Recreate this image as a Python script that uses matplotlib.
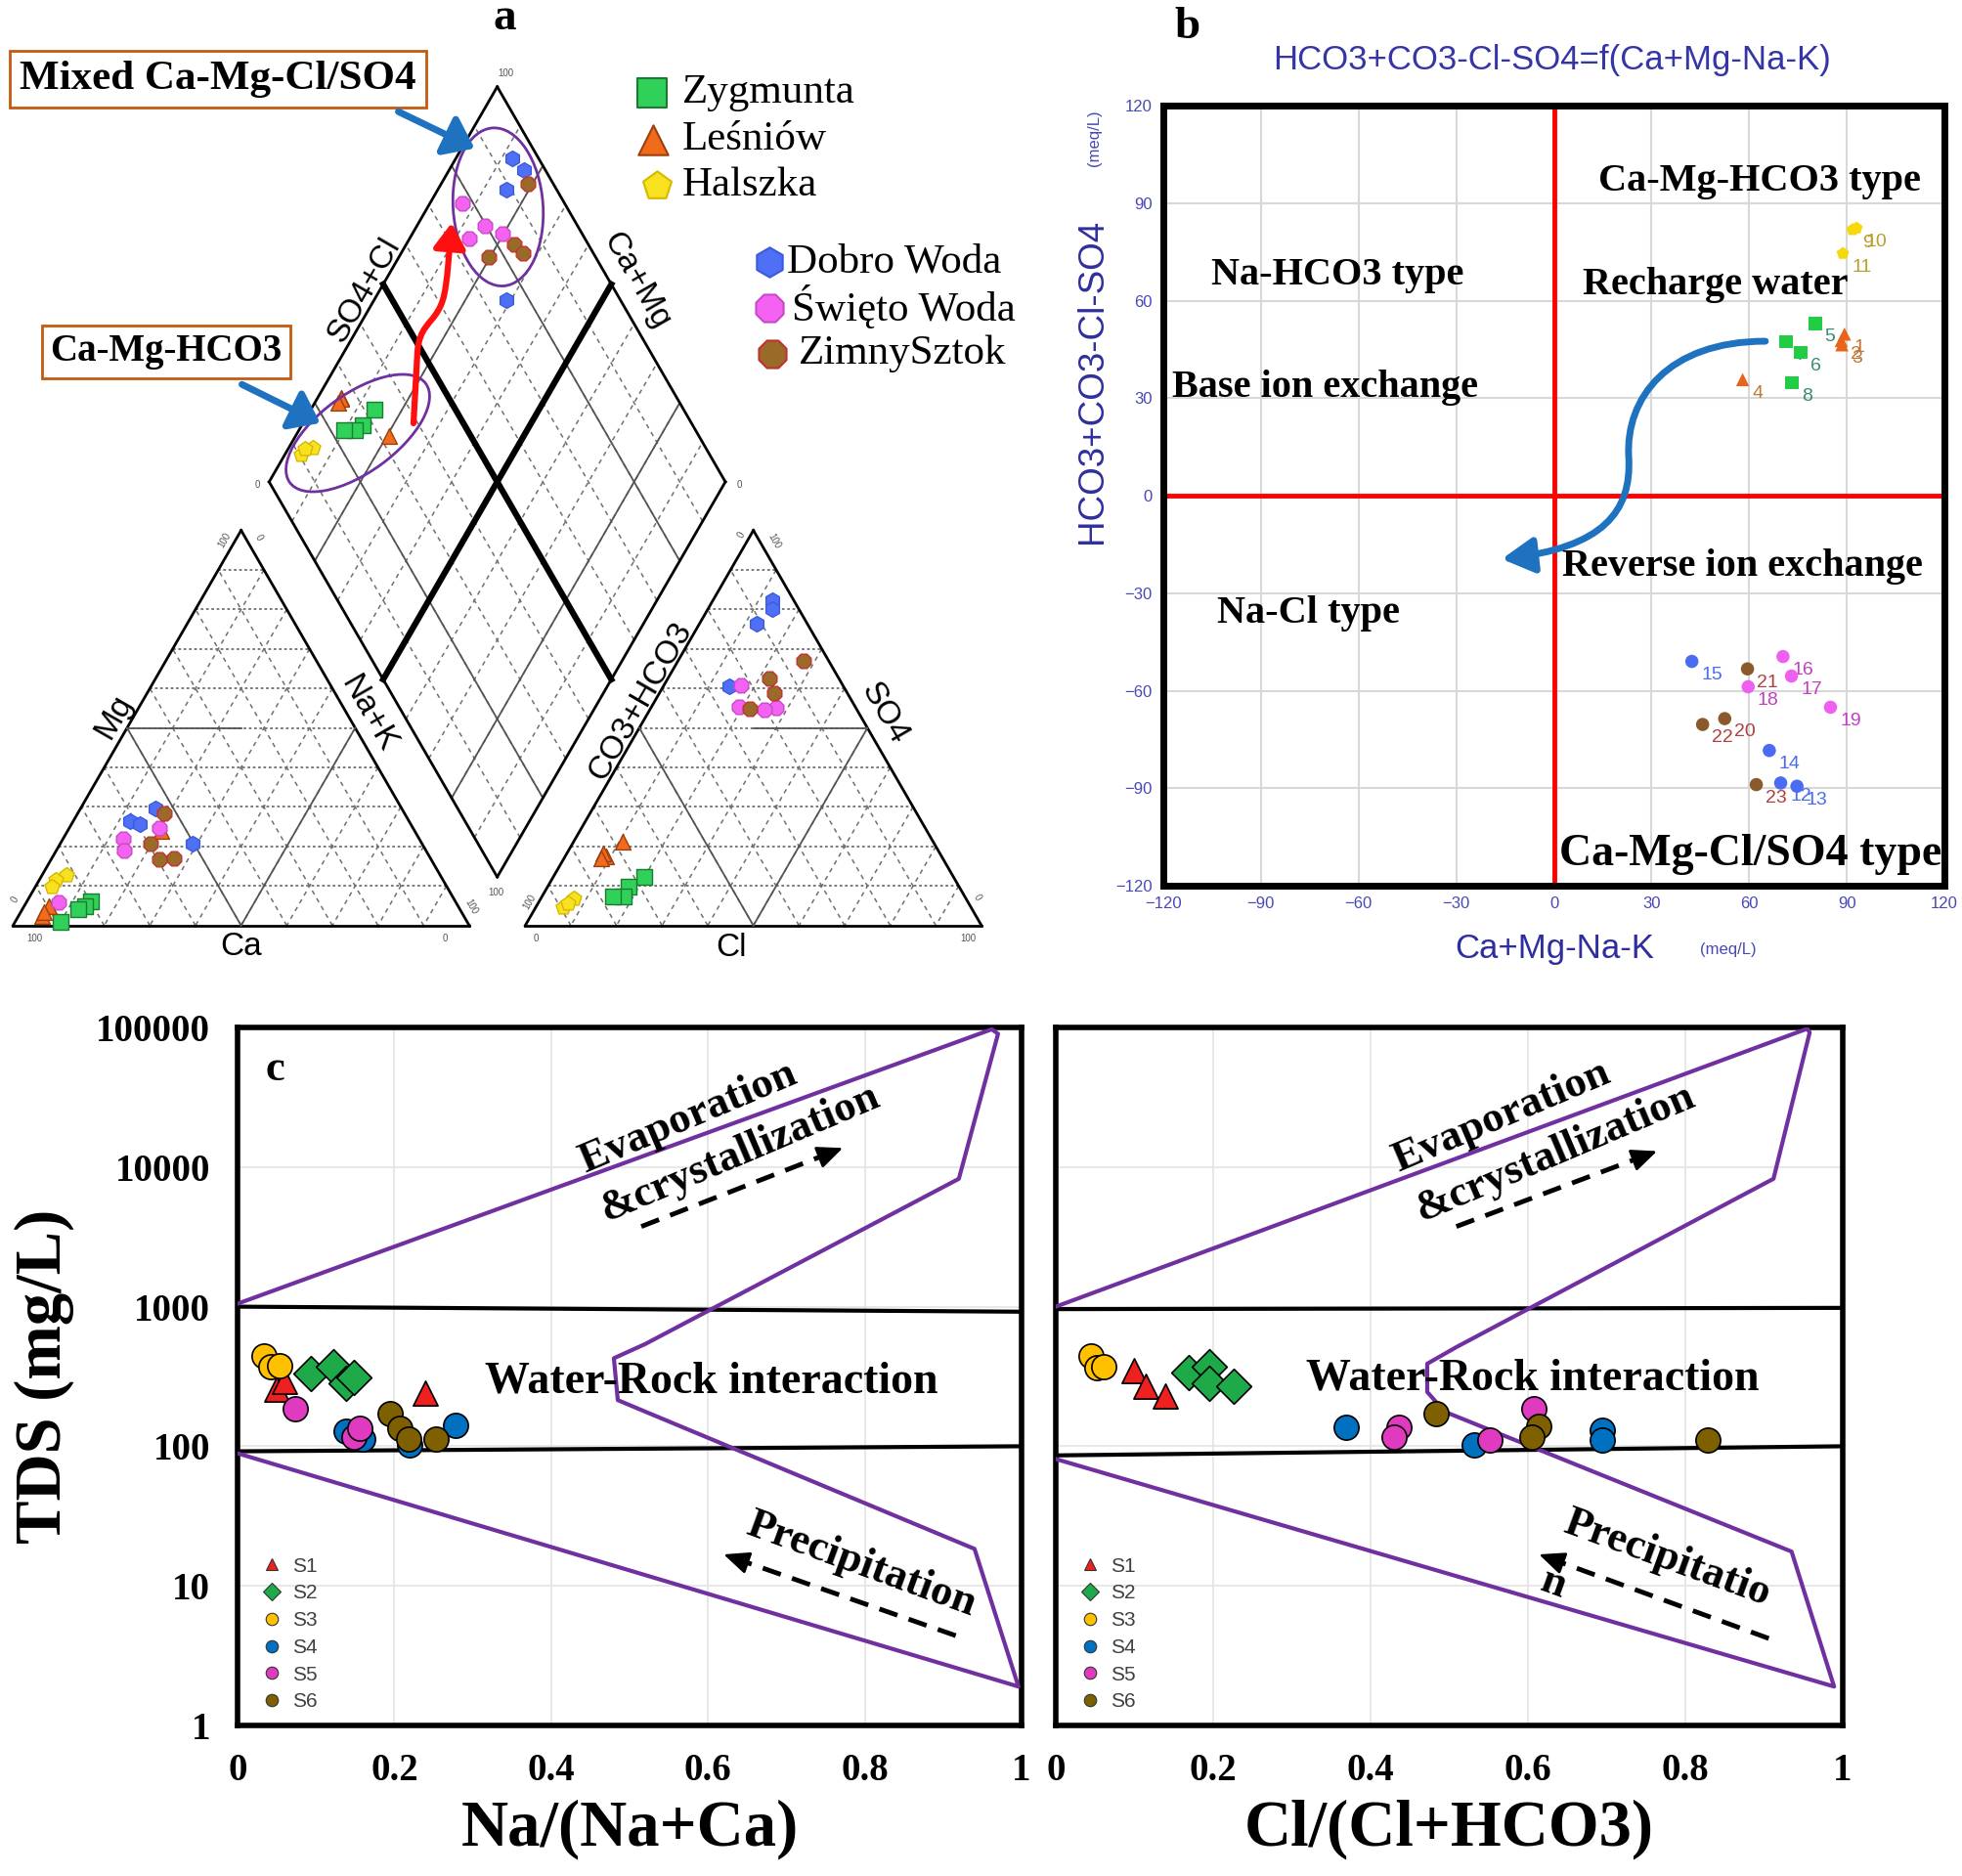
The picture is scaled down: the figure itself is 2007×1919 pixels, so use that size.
import numpy as np
import matplotlib
matplotlib.use('Agg')
import matplotlib.pyplot as plt
from matplotlib.patches import Ellipse, FancyArrowPatch
from matplotlib.path import Path
from matplotlib.lines import Line2D

SERIF = ['Liberation Serif', 'DejaVu Serif']
SANS = ['Liberation Sans', 'DejaVu Sans']

# ---------------- panel a : Piper data (% meq) ----------------
sites = ['Zygmunta', 'Leśniów', 'Halszka', 'Dobro Woda', 'Święto Woda', 'ZimnySztok']
mg_pct = {'Zygmunta': [6.1, 4.9, 4.1, 0.9], 'Leśniów': [2.4, 4.9, 3.4, 24.0],
          'Halszka': [12.8, 11.6, 9.9], 'Dobro Woda': [29.7, 26.5, 25.7, 20.8],
          'Święto Woda': [24.7, 22.0, 19.0, 5.9], 'ZimnySztok': [28.4, 20.8, 16.8, 17.0]}
na_pct = {'Zygmunta': [14.0, 13.3, 12.3, 10.0], 'Leśniów': [5.2, 5.4, 5.0, 20.5],
          'Halszka': [5.3, 3.6, 3.6], 'Dobro Woda': [16.4, 12.4, 15.0, 29.0],
          'Święto Woda': [19.7, 13.1, 14.9, 7.0], 'ZimnySztok': [18.9, 19.7, 23.7, 26.8]}
so4_pct = {'Zygmunta': [12.4, 9.9, 7.4, 7.4], 'Leśniów': [17.4, 18.3, 17.0, 21.3],
           'Halszka': [6.8, 4.6, 5.6], 'Dobro Woda': [82.3, 80.2, 76.4, 60.6],
           'Święto Woda': [55.0, 55.4, 54.5, 60.7], 'ZimnySztok': [66.9, 54.8, 58.8, 62.4]}
cl_pct = {'Zygmunta': [19.9, 17.8, 17.9, 15.6], 'Leśniów': [9.0, 8.0, 8.1, 10.8],
          'Halszka': [7.2, 5.9, 6.5], 'Dobro Woda': [12.9, 14.0, 12.6, 14.4],
          'Święto Woda': [27.4, 19.2, 25.1, 16.9], 'ZimnySztok': [27.5, 21.8, 25.1, 22.2]}

site_marker = {'Zygmunta': 's', 'Leśniów': '^', 'Halszka': 'p',
               'Dobro Woda': 'h', 'Święto Woda': '8', 'ZimnySztok': '8'}
site_face = {'Zygmunta': '#2fd159', 'Leśniów': '#f26a1b', 'Halszka': '#f8e21f',
             'Dobro Woda': '#4f70f5', 'Święto Woda': '#f462f2', 'ZimnySztok': '#9a6a28'}
site_edge = {'Zygmunta': '#1d7a33', 'Leśniów': '#9a4010', 'Halszka': '#d6b800',
             'Dobro Woda': '#3a5ae0', 'Święto Woda': '#c848c8', 'ZimnySztok': '#c03232'}

# ---------------- panel b data (meq/L) ----------------
b_x = {'Halszka': [91.8, 93.0, 88.8], 'Zygmunta': [80.3, 71.4, 75.8, 73.2],
       'Leśniów': [89.3, 88.3, 88.5, 58.0], 'Dobro Woda': [42.4, 66.2, 69.7, 74.7],
       'Święto Woda': [70.4, 73.0, 59.7, 85.0], 'ZimnySztok': [59.5, 52.5, 45.7, 62.2]}
b_y = {'Halszka': [81.8, 82.3, 74.5], 'Zygmunta': [52.9, 47.4, 44.0, 34.7],
       'Leśniów': [49.7, 47.7, 46.4, 35.7], 'Dobro Woda': [-51.0, -78.4, -88.4, -89.4],
       'Święto Woda': [-49.5, -55.5, -58.8, -65.1], 'ZimnySztok': [-53.3, -68.6, -70.4, -88.9]}
b_lab = {'Halszka': ['9', '10', '11'], 'Zygmunta': ['5', '7', '6', '8'],
         'Leśniów': ['1', '2', '3', '4'], 'Dobro Woda': ['15', '14', '12', '13'],
         'Święto Woda': ['16', '17', '18', '19'], 'ZimnySztok': ['21', '20', '22', '23']}
b_marker = {'Halszka': 'p', 'Zygmunta': 's', 'Leśniów': '^', 'Dobro Woda': 'o',
            'Święto Woda': 'o', 'ZimnySztok': 'o'}
b_face = {'Halszka': '#f5d90a', 'Zygmunta': '#22cc44', 'Leśniów': '#e8641a',
          'Dobro Woda': '#4a6cf0', 'Święto Woda': '#f060f0', 'ZimnySztok': '#8b5a2b'}
b_text = {'Halszka': '#b8a030', 'Zygmunta': '#3a8a70', 'Leśniów': '#c07838',
          'Dobro Woda': '#4a6cf0', 'Święto Woda': '#c040c0', 'ZimnySztok': '#b04040'}

# ---------------- panel c data ----------------
groups = ['S1', 'S2', 'S3', 'S4', 'S5', 'S6']
g_marker = {'S1': '^', 'S2': 'D', 'S3': 'o', 'S4': 'o', 'S5': 'o', 'S6': 'o'}
g_color = {'S1': '#ee2020', 'S2': '#1faa4a', 'S3': '#ffc000', 'S4': '#0070c0',
           'S5': '#e03ac0', 'S6': '#7f6000'}
na_ratio = {'S1': [0.05, 0.06, 0.24], 'S2': [0.093, 0.122, 0.139, 0.148],
            'S3': [0.034, 0.042, 0.053], 'S4': [0.139, 0.16, 0.219, 0.278],
            'S5': [0.074, 0.148, 0.156], 'S6': [0.194, 0.207, 0.218, 0.253]}
tds_na = {'S1': [255, 290, 240], 'S2': [331, 372, 282, 309], 'S3': [447, 372, 380],
          'S4': [128, 112, 102, 141], 'S5': [186, 117, 135], 'S6': [170, 135, 112, 112]}
cl_ratio = {'S1': [0.10, 0.114, 0.139], 'S2': [0.169, 0.195, 0.195, 0.226],
            'S3': [0.045, 0.052, 0.061], 'S4': [0.369, 0.532, 0.695, 0.695],
            'S5': [0.436, 0.43, 0.551, 0.608], 'S6': [0.483, 0.614, 0.605, 0.828]}
tds_cl = {'S1': [346, 270, 229], 'S2': [340, 372, 282, 270], 'S3': [447, 364, 372],
          'S4': [137, 102, 130, 110], 'S5': [137, 117, 110, 186], 'S6': [170, 140, 117, 110]}

# Gibbs boundaries
gibbs_na_x = [0, 0.962, 0.97, 0.92, 0.52, 0.48, 0.485, 0.52, 0.94, 0.996, 0]
gibbs_na_y = [1050, 97000, 90000, 8240, 540, 427, 214, 177, 18.4, 1.9, 89]
gibbs_cl_x = [0, 0.955, 0.958, 0.912, 0.509, 0.472, 0.472, 0.494, 0.935, 0.989, 0]
gibbs_cl_y = [1000, 98000, 92000, 8240, 513, 390, 245, 177, 17.6, 1.9, 81]

W, HF = 2008, 1919
fig = plt.figure(figsize=(W / 100, HF / 100), dpi=100)


def box(x0, y0, x1, y1):
    return [x0 / W, 1 - y1 / HF, (x1 - x0) / W, (y1 - y0) / HF]


# =============== panel a: Piper ===============
ax = fig.add_axes(box(0, 0, 1060, 990))
ax.set_xlim(0, 1060)
ax.set_ylim(990, 0)
ax.axis('off')

S = 466.7
TH = S * np.sqrt(3) / 2
X0, Y0, GAP = 13.3, 946.7, 57.3
cA = np.array([X0, Y0]); cB = cA + [S, 0]; cC = cA + [S / 2, -TH]
aA = np.array([X0 + S + GAP, Y0]); aB = aA + [S, 0]; aC = aA + [S / 2, -TH]
dB = np.array([X0 + S + GAP / 2, Y0 - GAP * np.sqrt(3) / 2])
dL = dB + [-S / 2, -TH]; dR = dB + [S / 2, -TH]; dT = dB + [0, -2 * TH]


def seg(p, q, **kw):
    ax.plot([p[0], q[0]], [p[1], q[1]], **kw)


def tri_grid(A, B, C):
    for t in np.arange(0.1, 0.95, 0.1):
        seg(A + t * (C - A), B + t * (C - B), ls=(0, (1.5, 1.5)), color='#707070', lw=1.3)
        for P, Q, R in [(B, C, A), (C, A, B)]:
            seg(P + t * (R - P), Q + t * (R - Q), ls=(0, (3, 3)), color='#707070', lw=1.1)
    seg(A, B, color='black', lw=2); seg(B, C, color='black', lw=2); seg(C, A, color='black', lw=2)


tri_grid(cA, cB, cC)
tri_grid(aA, aB, aC)
# subdivision lines
thin = dict(color='#555555', lw=1.3)
seg((cA + cC) / 2, (cA + cB) / 2, **thin)
seg((cB + cC) / 2, (cA + cB) / 2, **thin)
seg((cA + cC) / 2, (cA + cC) / 2 + [S / 4, 0], **thin)
seg((aA + aC) / 2, (aA + aB) / 2, **thin)
seg((aB + aC) / 2, (aA + aB) / 2, **thin)
seg((aB + aC) / 2, (aB + aC) / 2 - [S / 4, 0], **thin)

for t in np.arange(0.1, 0.95, 0.1):
    p = dB + t * (dR - dB); seg(p, p + (dL - dB), ls=(0, (3, 3)), color='#707070', lw=1.1)
    p = dB + t * (dL - dB); seg(p, p + (dR - dB), ls=(0, (3, 3)), color='#707070', lw=1.1)
for t in [0.2, 0.8]:
    p = dB + t * (dR - dB); seg(p, p + (dL - dB), **thin)
    p = dB + t * (dL - dB); seg(p, p + (dR - dB), **thin)
p = dB + 0.5 * (dR - dB); seg(p, p + (dL - dB), color='black', lw=4.5)
p = dB + 0.5 * (dL - dB); seg(p, p + (dR - dB), color='black', lw=4.5)
for p, q in [(dB, dL), (dL, dT), (dT, dR), (dR, dB)]:
    seg(p, q, color='black', lw=2)

for s in sites:
    mg = np.array(mg_pct[s]); na = np.array(na_pct[s])
    so4 = np.array(so4_pct[s]); cl = np.array(cl_pct[s])
    kw = dict(marker=site_marker[s], s=130, c=site_face[s], edgecolors=site_edge[s],
              linewidths=1, zorder=5)
    ax.scatter(X0 + S * (na + mg / 2) / 100, Y0 - TH * mg / 100, **kw)
    ax.scatter(aA[0] + S * (cl + so4 / 2) / 100, Y0 - TH * so4 / 100, **kw)
    camg = 100 - na
    sc = so4 + cl
    ax.scatter(dB[0] + (sc - camg) / 100 * S / 2, dB[1] - (camg + sc) / 100 * TH, **kw)

# axis names
lab = dict(fontsize=24, family=SANS, ha='center', va='center')
ax.text(116, 733, 'Mg', rotation=60, **lab)
ax.text(377, 730, 'Na+K', rotation=-60, **lab)
ax.text(247, 968, 'Ca', **lab)
ax.text(655, 717, 'CO3+HCO3', rotation=60, **lab)
ax.text(905, 730, 'SO4', rotation=-60, **lab)
ax.text(748, 969, 'Cl', **lab)
ax.text(373, 297, 'SO4+Cl', rotation=60, **lab)
ax.text(651, 287, 'Ca+Mg', rotation=-60, **lab)

small = dict(fontsize=7, family=SANS, color='#555555', ha='center', va='center')
for x, y, t, r in [(35, 960, '100', 0), (455, 960, '0', 0), (230, 553, '100', 60),
                   (265, 550, '0', -60), (15, 920, '0', 60), (482, 927, '100', -60),
                   (548, 960, '0', 0), (990, 960, '100', 0), (758, 547, '0', 60),
                   (792, 553, '100', -60), (542, 923, '100', 60), (1000, 918, '0', -60),
                   (517, 75, '100', 0), (263, 496, '0', 0), (756, 496, '0', 0),
                   (507, 913, '100', 0)]:
    ax.text(x, y, t, rotation=r, **small)

# ellipses, arrows, callouts
ax.add_patch(Ellipse((509.5, 211.7), 92, 162, angle=-4, fc='none', ec='#7030a0', lw=2, zorder=6))
ax.add_patch(Ellipse((366, 443), 172, 80, angle=-36, fc='none', ec='#7030a0', lw=2, zorder=6))
red_path = Path([(423, 433), (427, 360), (429, 335), (440, 332), (448, 318),
                 (456, 305), (457, 290), (462, 228)],
                [Path.MOVETO, Path.LINETO, Path.CURVE4, Path.CURVE4, Path.CURVE4,
                 Path.CURVE4, Path.CURVE4, Path.CURVE4])
ax.add_patch(FancyArrowPatch(path=red_path, arrowstyle='-|>,head_length=0.7,head_width=0.45',
                             mutation_scale=22, color='#ff1010', lw=4.5, zorder=7))
for p, q in [((405, 113), (488, 153)), ((245, 392), (330, 434))]:
    ax.add_patch(FancyArrowPatch(p, q, arrowstyle='-|>,head_length=0.8,head_width=0.6',
                                 mutation_scale=22, color='#1f72c0', lw=5, zorder=7))
callout = dict(family=SERIF, weight='bold', ha='center', va='center')
ax.text(223, 81, 'Mixed Ca-Mg-Cl/SO4', fontsize=31,
        bbox=dict(boxstyle='square,pad=0.24', fc='white', ec='#c55a11', lw=2), **callout)
ax.text(170, 360, 'Ca-Mg-HCO3', fontsize=28,
        bbox=dict(boxstyle='square,pad=0.22', fc='white', ec='#c55a11', lw=2), **callout)
ax.text(516, 19, 'a', fontsize=34, family=SERIF, weight='bold', ha='center', va='center')

# legend of panel a
leg_pos = {'Zygmunta': (667, 95, 698), 'Leśniów': (668, 143, 698), 'Halszka': (672, 190, 698),
           'Dobro Woda': (787, 268, 805), 'Święto Woda': (787, 315, 810),
           'ZimnySztok': (790, 362, 817)}
for s in sites:
    mx, my, tx = leg_pos[s]
    ax.scatter([mx], [my], marker=site_marker[s], s=480, c=site_face[s],
               edgecolors=site_edge[s], linewidths=1.5, zorder=5)
    ax.text(tx, my, s, fontsize=31, family=SERIF, ha='left', va='center')

# =============== panel b ===============
bx = fig.add_axes(box(1190, 108, 1989, 906))
ticks = np.arange(-120, 121, 30)
bx.set_xlim(-120, 120); bx.set_ylim(-120, 120)
bx.set_xticks(ticks); bx.set_yticks(ticks)
bx.grid(color='#d8d8d8', lw=1.5)
bx.set_axisbelow(True)
bx.axhline(0, color='#ff0000', lw=3.5, zorder=2)
bx.axvline(0, color='#ff0000', lw=3.5, zorder=2)
for sp in bx.spines.values():
    sp.set_linewidth(5)
bx.tick_params(length=0, labelsize=12, colors='#4848b8', pad=8)
for t in bx.get_xticklabels() + bx.get_yticklabels():
    t.set_family(SANS)
for s in ['Halszka', 'Zygmunta', 'Leśniów', 'Dobro Woda', 'Święto Woda', 'ZimnySztok']:
    bx.scatter(b_x[s], b_y[s], marker=b_marker[s], s=95, c=b_face[s], edgecolors='none', zorder=4)
    for x, y, l in zip(b_x[s], b_y[s], b_lab[s]):
        bx.annotate(l, (x, y), xytext=(7, -10), textcoords='offset points', fontsize=14,
                    family=SANS, color=b_text[s], va='center', ha='left')
arrow_path = Path([(65, 47.5), (35, 47.5), (22, 30), (23, 12), (24, -5), (15, -16), (-16, -19.5)],
                  [Path.MOVETO] + [Path.CURVE4] * 6)
bx.add_patch(FancyArrowPatch(path=arrow_path, arrowstyle='-|>,head_length=0.9,head_width=0.5',
                             mutation_scale=22, color='#1f72c0', lw=5, zorder=5))
btxt = dict(fontsize=29, family=SERIF, weight='bold', ha='center', va='center', zorder=6)
bx.text(63.2, 96.6, 'Ca-Mg-HCO3 type', **btxt)
bx.text(-66.5, 67.7, 'Na-HCO3 type', **btxt)
bx.text(49.7, 64.7, 'Recharge water', **btxt)
bx.text(-70.3, 33.1, 'Base ion exchange', **btxt)
bx.text(58.1, -21.7, 'Reverse ion exchange', **btxt)
bx.text(-75.4, -36.3, 'Na-Cl type', **btxt)
bx.text(60.5, -110.3, 'Ca-Mg-Cl/SO4 type', fontsize=33, family=SERIF, weight='bold',
        ha='center', va='center', zorder=6)
fig.text(1588 / W, 1 - 61 / HF, 'HCO3+CO3-Cl-SO4=f(Ca+Mg-Na-K)', fontsize=25, family=SANS,
         color='#3535a8', ha='center', va='center')
fig.text(1590 / W, 1 - 970 / HF, 'Ca+Mg-Na-K', fontsize=25, family=SANS, color='#2e2e9e',
         ha='center', va='center')
fig.text(1768 / W, 1 - 971 / HF, '(meq/L)', fontsize=12, family=SANS, color='#4848b8',
         ha='center', va='center')
fig.text(1118 / W, 1 - 390 / HF, 'HCO3+CO3-Cl-SO4', fontsize=26.5, family=SANS, color='#2e2e9e',
         rotation=90, ha='center', va='center')
fig.text(1120 / W, 1 - 141 / HF, '(meq/L)', fontsize=12, family=SANS, color='#4848b8',
         rotation=90, ha='center', va='center')
fig.text(1214 / W, 1 - 28 / HF, 'b', fontsize=34, family=SERIF, weight='bold',
         ha='center', va='center')


# =============== panel c ===============
def gibbs(cx, xs, gx, gy, upper, lower, evap, precip, pre_n, arrows):
    cx.set_yscale('log')
    cx.set_xlim(0, 1); cx.set_ylim(1, 100000)
    cx.set_xticks([0, 0.2, 0.4, 0.6, 0.8, 1])
    cx.set_xticklabels(['0', '0.2', '0.4', '0.6', '0.8', '1'])
    cx.set_yticks([1, 10, 100, 1000, 10000, 100000])
    cx.set_yticklabels(['1', '10', '100', '1000', '10000', '100000'])
    cx.minorticks_off()
    cx.grid(color='#e4e4e4', lw=1.2)
    cx.set_axisbelow(True)
    cx.tick_params(length=0, labelsize=28, pad=20)
    for t in cx.get_xticklabels() + cx.get_yticklabels():
        t.set_family(SERIF); t.set_weight('bold')
    for sp in cx.spines.values():
        sp.set_linewidth(4)
    cx.plot([0, 1], upper, color='black', lw=3, zorder=2)
    cx.plot([0, 1], lower, color='black', lw=3, zorder=2)
    cx.plot(gx, gy, color='#7030a0', lw=3, zorder=3)
    for g in groups:
        cx.scatter(xs[0][g], xs[1][g], marker=g_marker[g], s=330, c=g_color[g],
                   edgecolors='black', linewidths=1.2, zorder=5)
    txt = dict(family=SERIF, weight='bold', ha='center', va='center', fontsize=32)
    cx.text(evap[0][0], evap[0][1], 'Evaporation', rotation=23, **txt)
    cx.text(evap[1][0], evap[1][1], '&crystallization', rotation=23, **txt)
    cx.text(precip[0], precip[1], precip[2], rotation=-20, **txt)
    if pre_n:
        cx.text(pre_n[0], pre_n[1], 'n', rotation=-20, **txt)
    cx.text(evap[2][0], evap[2][1], 'Water-Rock interaction', family=SERIF, weight='bold',
            ha='center', va='center', fontsize=33)
    for (x0, y0), (x1, y1) in arrows:
        xm = x0 + 0.93 * (x1 - x0)
        ym = 10 ** (np.log10(y0) + 0.93 * (np.log10(y1) - np.log10(y0)))
        cx.plot([x0, xm], [y0, ym], color='black', lw=3.5, dashes=(4, 2.5), zorder=4)
        cx.annotate('', xy=(x1, y1), xytext=(xm, ym),
                    arrowprops=dict(arrowstyle='-|>,head_length=0.8,head_width=0.35',
                                    mutation_scale=20, color='black', lw=2, shrinkA=0, shrinkB=0))
    handles = [Line2D([], [], ls='none', marker=g_marker[g], markersize=9, markerfacecolor=g_color[g],
                      markeredgecolor='#333333', markeredgewidth=0.8, label=g) for g in groups]
    leg = cx.legend(handles=handles, loc='lower left', bbox_to_anchor=(0.0, 0.0), frameon=False,
                    handletextpad=0.0, labelspacing=0.42, borderaxespad=0.3,
                    prop={'family': SANS, 'size': 15})
    for t in leg.get_texts():
        t.set_color('#404040')


cl_ax = fig.add_axes(box(243, 1051, 1045, 1765))
gibbs(cl_ax, (na_ratio, tds_na), gibbs_na_x, gibbs_na_y, [1000, 920], [92, 100],
      [(0.574, 22700), (0.641, 12500), (0.605, 291)], (0.796, 14.1, 'Precipitation'), None,
      [((0.515, 3750), (0.772, 13700)), ((0.916, 4.4), (0.62, 16.8))])
cl_ax.set_ylabel('TDS (mg/L)', fontsize=48, family=SERIF, weight='bold', labelpad=16)
cl_ax.set_xlabel('Na/(Na+Ca)', fontsize=48, family=SERIF, weight='bold', labelpad=8)
cl_ax.text(0.048, 0.94, 'c', transform=cl_ax.transAxes, fontsize=32, family=SERIF,
           weight='bold', ha='center', va='center')

cr_ax = fig.add_axes(box(1080, 1051, 1885, 1765))
gibbs(cr_ax, (cl_ratio, tds_cl), gibbs_cl_x, gibbs_cl_y, [960, 980], [86, 100],
      [(0.566, 23000), (0.634, 12600), (0.606, 303)], (0.777, 15.8, 'Precipitatio'), (0.633, 10.4),
      [((0.509, 3750), (0.764, 13000)), ((0.906, 4.2), (0.614, 16.8))])
cr_ax.set_yticklabels([])
cr_ax.set_xlabel('Cl/(Cl+HCO3)', fontsize=48, family=SERIF, weight='bold', labelpad=8)

fig.savefig('out.png', dpi=100)
